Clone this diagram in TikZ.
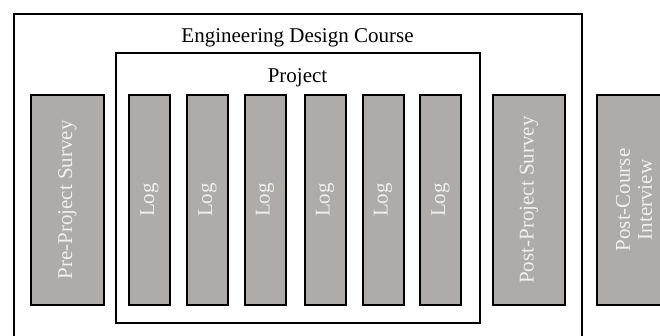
\documentclass[tikz,border=0pt]{standalone}
\usepackage{fontspec}
\setmainfont{Liberation Serif}
\definecolor{boxgray}{RGB}{174,171,169}
\definecolor{boxtext}{RGB}{240,240,240}
\begin{document}
\begin{tikzpicture}[x=1pt,y=-1pt,
  frame/.style={draw=black, line width=2pt, inner sep=0pt, fill=none},
  box/.style={draw=black, line width=2pt, fill=boxgray, inner sep=0pt, minimum height=210pt},
  lbl/.style={text=boxtext, font=\fontsize{21}{22}\selectfont, rotate=90, align=center, inner sep=0pt},
  ttl/.style={font=\fontsize{21}{22}\selectfont, inner sep=0pt}]
\useasboundingbox (0,0) rectangle (660,336);
\clip (0,0) rectangle (660,336);
% frames
\node[frame, minimum width=568pt, minimum height=340pt] (course) at (297.5,184) {};
\node[frame, minimum width=364pt, minimum height=269pt] (project) at (297.5,188) {};
\node[ttl] (coursetitle) at (297.5,38) {Engineering Design Course};
\node[ttl] (projecttitle) at (297.5,78) {Project};
% boxes
\node[box, minimum width=73pt] (pre) at (67.5,200) {};
\node[lbl] (prelbl) at (pre.center) {Pre-Project Survey};
\foreach \i/\x in {1/149.5,2/207.5,3/265,4/325,5/383,6/440.5}{
  \node[box, minimum width=41pt] (log\i) at (\x,200) {};
  \node[lbl] (loglbl\i) at (log\i.center) {Log};
}
\node[box, minimum width=72pt] (post) at (529,200) {};
\node[lbl] (postlbl) at (post.center) {Post-Project Survey};
\node[box, minimum width=74pt] (interview) at (634,200) {};
\node[lbl] (interviewlbl) at (interview.center) {Post-Course\\Interview};
\end{tikzpicture}
\end{document}
